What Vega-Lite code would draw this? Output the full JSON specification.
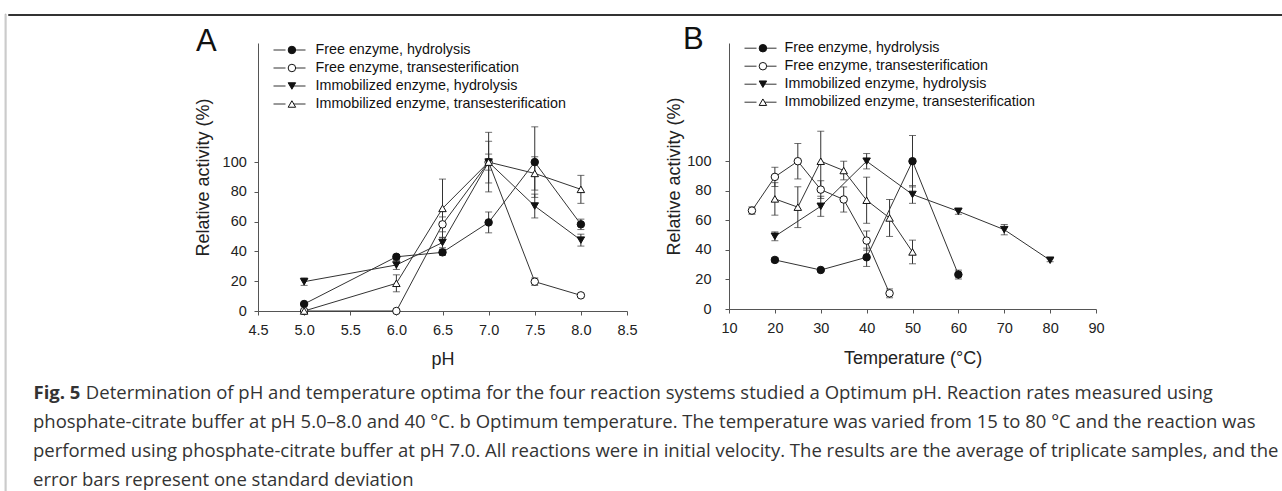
{
  "$schema": "https://vega.github.io/schema/vega-lite/v6.json",
  "background": "white",
  "padding": {"left": 4, "top": 13, "right": 0, "bottom": 0},
  "datasets": {
    "A": [
      {"s": "Free enzyme, hydrolysis", "x": 5.0, "y": 4.7, "e": 0},
      {"s": "Free enzyme, hydrolysis", "x": 6.0, "y": 36.4, "e": 1.5},
      {"s": "Free enzyme, hydrolysis", "x": 6.5, "y": 39.4, "e": 2},
      {"s": "Free enzyme, hydrolysis", "x": 7.0, "y": 59.5, "e": 7},
      {"s": "Free enzyme, hydrolysis", "x": 7.5, "y": 100, "e": 23.7},
      {"s": "Free enzyme, hydrolysis", "x": 8.0, "y": 58.2, "e": 3.5},
      {"s": "Free enzyme, transesterification", "x": 5.0, "y": 0, "e": 0},
      {"s": "Free enzyme, transesterification", "x": 6.0, "y": 0, "e": 0},
      {"s": "Free enzyme, transesterification", "x": 6.5, "y": 58.2, "e": 5},
      {"s": "Free enzyme, transesterification", "x": 7.0, "y": 100, "e": 20},
      {"s": "Free enzyme, transesterification", "x": 7.5, "y": 19.7, "e": 2.5},
      {"s": "Free enzyme, transesterification", "x": 8.0, "y": 10.5, "e": 1},
      {"s": "Immobilized enzyme, hydrolysis", "x": 5.0, "y": 19.7, "e": 2.5},
      {"s": "Immobilized enzyme, hydrolysis", "x": 6.0, "y": 30.9, "e": 3},
      {"s": "Immobilized enzyme, hydrolysis", "x": 6.5, "y": 46, "e": 3.5},
      {"s": "Immobilized enzyme, hydrolysis", "x": 7.0, "y": 100, "e": 5.4},
      {"s": "Immobilized enzyme, hydrolysis", "x": 7.5, "y": 70.5, "e": 8},
      {"s": "Immobilized enzyme, hydrolysis", "x": 8.0, "y": 47.6, "e": 4},
      {"s": "Immobilized enzyme, transesterification", "x": 5.0, "y": 0, "e": 0},
      {"s": "Immobilized enzyme, transesterification", "x": 6.0, "y": 18.6, "e": 5.7},
      {"s": "Immobilized enzyme, transesterification", "x": 6.5, "y": 68.9, "e": 19.7},
      {"s": "Immobilized enzyme, transesterification", "x": 7.0, "y": 100, "e": 14},
      {"s": "Immobilized enzyme, transesterification", "x": 7.5, "y": 92.4, "e": 11.2},
      {"s": "Immobilized enzyme, transesterification", "x": 8.0, "y": 81.7, "e": 9.4}
    ],
    "B": [
      {"s": "Free enzyme, hydrolysis", "x": 20, "y": 33.2, "e": 1.5},
      {"s": "Free enzyme, hydrolysis", "x": 30, "y": 26.4, "e": 1},
      {"s": "Free enzyme, hydrolysis", "x": 40, "y": 35, "e": 6.2},
      {"s": "Free enzyme, hydrolysis", "x": 50, "y": 100, "e": 17.4},
      {"s": "Free enzyme, hydrolysis", "x": 60, "y": 23.3, "e": 3},
      {"s": "Free enzyme, transesterification", "x": 15, "y": 66.6, "e": 2.5},
      {"s": "Free enzyme, transesterification", "x": 20, "y": 89.4, "e": 6.5},
      {"s": "Free enzyme, transesterification", "x": 25, "y": 100, "e": 12},
      {"s": "Free enzyme, transesterification", "x": 30, "y": 80.8, "e": 6},
      {"s": "Free enzyme, transesterification", "x": 35, "y": 74.1, "e": 8.5},
      {"s": "Free enzyme, transesterification", "x": 40, "y": 46.3, "e": 6.5},
      {"s": "Free enzyme, transesterification", "x": 45, "y": 10.6, "e": 3},
      {"s": "Immobilized enzyme, hydrolysis", "x": 20, "y": 49.2, "e": 3},
      {"s": "Immobilized enzyme, hydrolysis", "x": 30, "y": 69.5, "e": 6.8},
      {"s": "Immobilized enzyme, hydrolysis", "x": 40, "y": 100, "e": 5.2},
      {"s": "Immobilized enzyme, hydrolysis", "x": 50, "y": 77.5, "e": 6},
      {"s": "Immobilized enzyme, hydrolysis", "x": 60, "y": 66.1, "e": 2},
      {"s": "Immobilized enzyme, hydrolysis", "x": 70, "y": 53.7, "e": 3.5},
      {"s": "Immobilized enzyme, hydrolysis", "x": 80, "y": 33, "e": 1},
      {"s": "Immobilized enzyme, transesterification", "x": 20, "y": 74.5, "e": 11},
      {"s": "Immobilized enzyme, transesterification", "x": 25, "y": 68.9, "e": 13.8},
      {"s": "Immobilized enzyme, transesterification", "x": 30, "y": 100, "e": 20.3},
      {"s": "Immobilized enzyme, transesterification", "x": 35, "y": 93.7, "e": 6.3},
      {"s": "Immobilized enzyme, transesterification", "x": 40, "y": 73.6, "e": 15.6},
      {"s": "Immobilized enzyme, transesterification", "x": 45, "y": 61.6, "e": 12.5},
      {"s": "Immobilized enzyme, transesterification", "x": 50, "y": 38.6, "e": 8}
    ]
  },
  "spacing": 0,
  "hconcat": [
    {
      "width": 1,
      "height": 480,
      "data": {"values": [{}]},
      "mark": {"type": "point", "opacity": 0, "size": 0},
      "encoding": {},
      "view": {"stroke": "#999", "strokeWidth": 0.6, "fill": null}
    },
    {
      "title": {"text": "Fig. 5", "orient": "top", "anchor": "start", "frame": "bounds", "font": "Open Sans", "fontSize": 18.5, "fontWeight": "bold", "color": "#333", "baseline": "alphabetic", "offset": 0, "dx": 26, "dy": 404},
      "spacing": 8,
      "vconcat": [
        {
          "width": 1290,
          "height": 1,
          "data": {"values": [{}]},
          "mark": {"type": "point", "opacity": 0, "size": 0},
          "encoding": {},
          "view": {"stroke": "#333", "strokeWidth": 1, "fill": null}
        },
        {
          "title": {
            "text": [
              "\u200b\u00a0\u00a0\u00a0\u00a0\u00a0\u00a0\u00a0\u00a0\u00a0\u00a0\u00a0Determination of pH and temperature optima for the four reaction systems studied a Optimum pH. Reaction rates measured using",
              "phosphate-citrate buffer at pH 5.0–8.0 and 40 °C. b Optimum temperature. The temperature was varied from 15 to 80 °C and the reaction was",
              "performed using phosphate-citrate buffer at pH 7.0. All reactions were in initial velocity. The results are the average of triplicate samples, and the",
              "error bars represent one standard deviation"
            ],
            "orient": "bottom",
            "anchor": "start",
            "frame": "bounds",
            "font": "Open Sans",
            "fontSize": 18.5,
            "fontWeight": "normal",
            "color": "#333",
            "lineHeight": 29,
            "offset": 15,
            "dx": 25
          },
          "spacing": 27,
          "resolve": {
            "scale": {"x": "independent", "y": "independent", "shape": "independent", "fill": "independent", "stroke": "independent"},
            "legend": {"shape": "independent", "fill": "independent", "stroke": "independent"}
          },
          "hconcat": [
            {
              "width": 158.5,
              "height": 10,
              "data": {"values": [{}]},
              "mark": {"type": "point", "opacity": 0, "size": 0},
              "encoding": {}
            },
            {
              "width": 369,
              "height": 268,
              "data": {"name": "A"},
              "title": {"text": "A", "anchor": "start", "frame": "group", "orient": "top", "font": "Liberation Sans", "fontSize": 31, "fontWeight": "normal", "color": "#111", "dx": -62, "dy": 32, "offset": -9, "baseline": "alphabetic"},
              "encoding": {
                "x": {"field": "x", "type": "quantitative", "scale": {"domain": [4.5, 8.5], "nice": false, "zero": false},
                      "axis": {"title": "pH", "values": [4.5, 5, 5.5, 6, 6.5, 7, 7.5, 8, 8.5], "format": ".1f", "labelPadding": 8, "titlePadding": 14, "labelFlush": false, "labelOverlap": false}},
                "y": {"field": "y", "type": "quantitative", "scale": {"domain": [0, 180], "nice": false},
                      "axis": {"title": "Relative activity (%)", "values": [0, 20, 40, 60, 80, 100], "labelPadding": 7.7, "titlePadding": 10, "labelFlush": false, "labelOverlap": false}}
              },
              "layer": [
                {
                  "mark": {"type": "line", "strokeWidth": 1},
                  "encoding": {
                    "stroke": {"field": "s", "type": "nominal", "scale": {"range": ["#333", "#333", "#333", "#333"]},
                      "legend": {"orient": "none", "legendX": 15, "legendY": -1.85, "title": null, "padding": 0, "rowPadding": 0, "clipHeight": 17.7, "symbolType": "M-1,0H-0.25M0.25,0H1", "symbolSize": 1024, "symbolStrokeWidth": 1, "symbolFillColor": "transparent", "labelExpr": "''", "labelOffset": 0}}
                  }
                },
                {
                  "mark": {"type": "errorbar", "ticks": {"size": 7, "thickness": 1, "color": "#333"}, "rule": {"strokeWidth": 1, "color": "#333"}},
                  "encoding": {"yError": {"field": "e"}}
                },
                {
                  "mark": {"type": "point", "filled": true, "size": 56, "stroke": "#111", "strokeWidth": 1, "opacity": 1},
                  "encoding": {
                    "shape": {"field": "s", "type": "nominal",
                      "scale": {"domain": ["Free enzyme, hydrolysis", "Free enzyme, transesterification", "Immobilized enzyme, hydrolysis", "Immobilized enzyme, transesterification"], "range": ["circle", "circle", "triangle-down", "triangle-up"]},
                      "legend": {"orient": "none", "legendX": 15, "legendY": -1.85, "title": null, "padding": 0, "rowPadding": 0, "clipHeight": 17.7, "symbolSize": 56, "symbolStrokeWidth": 1, "symbolOffset": 11.75, "labelOffset": 16.5, "labelFont": "Liberation Sans", "labelFontSize": 14.3, "labelColor": "#111", "labelLimit": 400,
                        "encoding": {"symbols": {"stroke": {"value": "#111"}, "strokeWidth": {"value": 1}}}}},
                    "fill": {"field": "s", "type": "nominal",
                      "scale": {"domain": ["Free enzyme, hydrolysis", "Free enzyme, transesterification", "Immobilized enzyme, hydrolysis", "Immobilized enzyme, transesterification"], "range": ["#111", "white", "#111", "white"]},
                      "legend": {"orient": "none", "legendX": 15, "legendY": -1.85, "title": null, "padding": 0, "rowPadding": 0, "clipHeight": 17.7, "symbolSize": 56, "symbolStrokeWidth": 1, "symbolOffset": 11.75, "labelOffset": 16.5, "labelFont": "Liberation Sans", "labelFontSize": 14.3, "labelColor": "#111", "labelLimit": 400,
                        "encoding": {"symbols": {"stroke": {"value": "#111"}, "strokeWidth": {"value": 1}}}}}
                  }
                }
              ]
            },
            {
              "width": 367,
              "height": 266,
              "data": {"name": "B"},
              "title": {"text": "B", "anchor": "start", "frame": "group", "orient": "top", "font": "Liberation Sans", "fontSize": 31, "fontWeight": "normal", "color": "#111", "dx": -46, "dy": 32, "offset": -9, "baseline": "alphabetic"},
              "encoding": {
                "x": {"field": "x", "type": "quantitative", "scale": {"domain": [10, 90], "nice": false, "zero": false},
                      "axis": {"title": "Temperature (°C)", "values": [10, 20, 30, 40, 50, 60, 70, 80, 90], "labelPadding": 8, "titlePadding": 15, "labelFlush": false, "labelOverlap": false}},
                "y": {"field": "y", "type": "quantitative", "scale": {"domain": [0, 180], "nice": false},
                      "axis": {"title": "Relative activity (%)", "values": [0, 20, 40, 60, 80, 100], "labelPadding": 14, "titlePadding": 3, "labelFlush": false, "labelOverlap": false}}
              },
              "layer": [
                {
                  "mark": {"type": "line", "strokeWidth": 1},
                  "encoding": {
                    "stroke": {"field": "s", "type": "nominal", "scale": {"range": ["#333", "#333", "#333", "#333"]},
                      "legend": {"orient": "none", "legendX": 15, "legendY": -3.65, "title": null, "padding": 0, "rowPadding": 0, "clipHeight": 17.7, "symbolType": "M-1,0H-0.25M0.25,0H1", "symbolSize": 1024, "symbolStrokeWidth": 1, "symbolFillColor": "transparent", "labelExpr": "''", "labelOffset": 0}}
                  }
                },
                {
                  "mark": {"type": "errorbar", "ticks": {"size": 7, "thickness": 1, "color": "#333"}, "rule": {"strokeWidth": 1, "color": "#333"}},
                  "encoding": {"yError": {"field": "e"}}
                },
                {
                  "mark": {"type": "point", "filled": true, "size": 56, "stroke": "#111", "strokeWidth": 1, "opacity": 1},
                  "encoding": {
                    "shape": {"field": "s", "type": "nominal",
                      "scale": {"domain": ["Free enzyme, hydrolysis", "Free enzyme, transesterification", "Immobilized enzyme, hydrolysis", "Immobilized enzyme, transesterification"], "range": ["circle", "circle", "triangle-down", "triangle-up"]},
                      "legend": {"orient": "none", "legendX": 15, "legendY": -3.65, "title": null, "padding": 0, "rowPadding": 0, "clipHeight": 17.7, "symbolSize": 56, "symbolStrokeWidth": 1, "symbolOffset": 11.75, "labelOffset": 14.5, "labelFont": "Liberation Sans", "labelFontSize": 14.3, "labelColor": "#111", "labelLimit": 400,
                        "encoding": {"symbols": {"stroke": {"value": "#111"}, "strokeWidth": {"value": 1}}}}},
                    "fill": {"field": "s", "type": "nominal",
                      "scale": {"domain": ["Free enzyme, hydrolysis", "Free enzyme, transesterification", "Immobilized enzyme, hydrolysis", "Immobilized enzyme, transesterification"], "range": ["#111", "white", "#111", "white"]},
                      "legend": {"orient": "none", "legendX": 15, "legendY": -3.65, "title": null, "padding": 0, "rowPadding": 0, "clipHeight": 17.7, "symbolSize": 56, "symbolStrokeWidth": 1, "symbolOffset": 11.75, "labelOffset": 14.5, "labelFont": "Liberation Sans", "labelFontSize": 14.3, "labelColor": "#111", "labelLimit": 400,
                        "encoding": {"symbols": {"stroke": {"value": "#111"}, "strokeWidth": {"value": 1}}}}}
                  }
                }
              ]
            }
          ]
        }
      ]
    }
  ],
  "config": {
    "view": {"stroke": null},
    "axis": {"labelFont": "Liberation Sans", "titleFont": "Liberation Sans", "labelFontSize": 14.5, "titleFontSize": 18, "titleFontWeight": "normal", "labelColor": "#222", "titleColor": "#222", "domainColor": "#555", "tickColor": "#555", "tickSize": 4, "grid": false}
  }
}
